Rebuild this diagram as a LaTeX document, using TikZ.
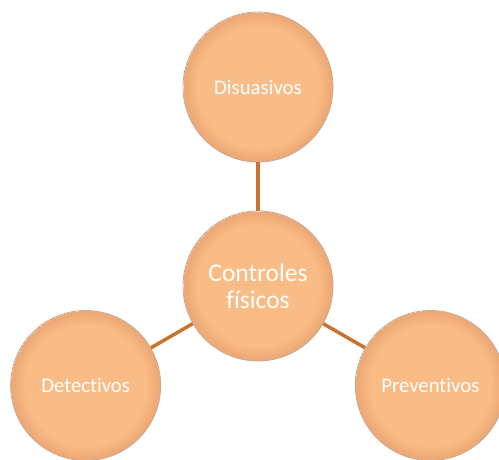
\documentclass[tikz,border=0pt]{standalone}
\usepackage{fontspec}
\setmainfont{Carlito}[Ligatures=NoCommon]
\definecolor{peach}{RGB}{250,188,134}
\definecolor{peachrim}{RGB}{238,170,118}
\definecolor{balledge}{RGB}{200,168,144}
\definecolor{link}{RGB}{200,116,46}
\pgfdeclareradialshading{ballrim}{\pgfpoint{0bp}{0bp}}{%
  color(0bp)=(peach);color(20bp)=(peach);color(24bp)=(peachrim);color(25bp)=(peachrim)}
\begin{document}
\begin{tikzpicture}[x=0.02cm,y=0.02cm,
    ball/.style={circle,minimum size=3cm,inner sep=0pt,align=center,
      draw=balledge,line width=0.5pt,shade,shading=ballrim,
      text=white,font=\fontsize{11.8}{13}\selectfont}]
      \useasboundingbox (-258,-173) rectangle (241,286);
      \draw
        (0,0) node[ball,font=\fontsize{14.5}{15.6}\selectfont] (ctr){Controles\\físicos}
        (90:199) node[ball] (dis){Disuasivos}
        (210:199) node[ball] (det){Detectivos}
        (330:199) node[ball] (pre){Preventivos};
      \begin{scope}[-,link,line width=2pt]
        \draw (ctr) to (dis);
        \draw (ctr) to (det);
        \draw (ctr) to (pre);
      \end{scope}
    \end{tikzpicture}
\end{document}
